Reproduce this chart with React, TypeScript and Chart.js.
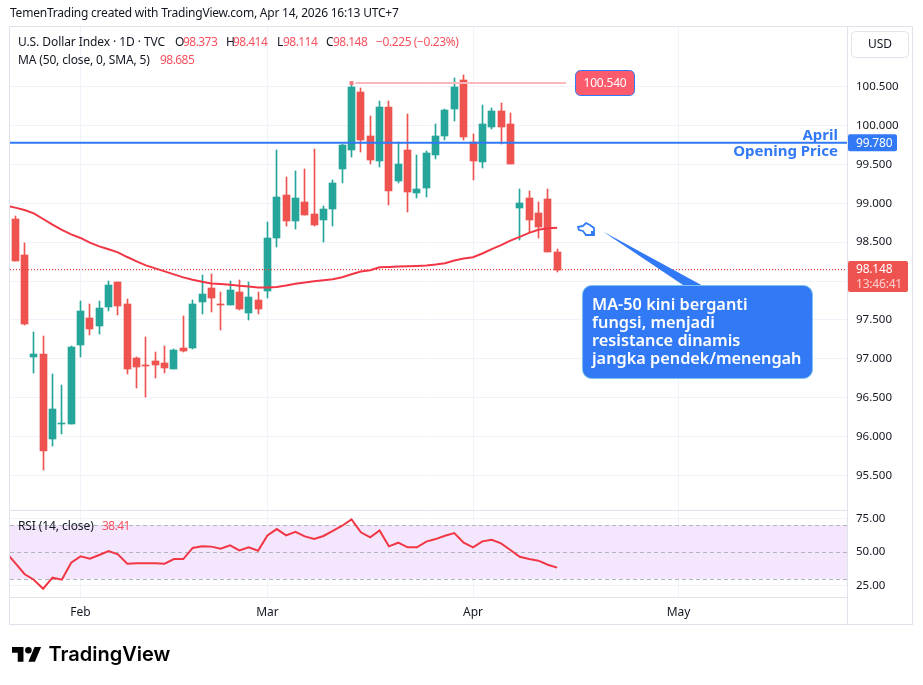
import { useEffect, useRef } from "react";
import { Chart, registerables, type Plugin } from "chart.js";

Chart.register(...registerables);

// one row per daily session, first one is Jan 22
const opens = [98.798, 98.335, 97.021, 97.06, 95.966, 96.159, 96.159, 97.176, 97.524, 97.421, 97.665, 97.987, 97.704, 97.009, 96.918, 96.97, 96.944, 96.867, 97.137, 97.137, 97.73, 97.91, 97.704, 97.691, 97.858, 97.588, 97.755, 97.871, 98.551, 99.105, 98.77, 99.015, 98.861, 98.783, 98.925, 99.44, 99.685, 100.431, 99.865, 99.543, 100.238, 99.285, 99.685, 99.131, 99.195, 99.62, 99.865, 100.212, 100.586, 99.788, 99.53, 99.981, 100.187, 100.019, 98.938, 99.067, 98.873, 99.054, 98.373];
const highs = [98.837, 98.489, 97.343, 97.292, 96.803, 96.661, 97.163, 97.742, 97.704, 97.742, 98.0, 97.987, 97.768, 97.021, 97.279, 97.086, 97.163, 97.124, 97.549, 97.755, 98.077, 98.09, 97.858, 98.0, 98.013, 97.987, 97.858, 98.76, 99.685, 99.337, 99.414, 99.44, 99.697, 98.964, 99.298, 99.762, 100.547, 100.483, 100.122, 100.315, 100.315, 99.788, 100.148, 99.62, 99.672, 100.019, 100.212, 100.612, 100.65, 99.891, 100.264, 100.225, 100.29, 100.161, 99.182, 99.157, 99.015, 99.182, 98.414];
const lows = [98.258, 97.433, 96.815, 95.567, 95.876, 96.03, 96.159, 97.021, 97.305, 97.318, 97.614, 97.562, 96.803, 96.622, 96.506, 96.751, 96.815, 96.867, 97.086, 97.124, 97.575, 97.601, 97.369, 97.691, 97.627, 97.498, 97.575, 97.781, 98.436, 98.706, 98.667, 98.848, 98.706, 98.5, 98.706, 99.26, 99.594, 99.659, 99.504, 99.466, 98.976, 99.26, 98.886, 99.067, 99.079, 99.569, 99.813, 100.058, 99.813, 99.298, 99.453, 99.955, 99.762, 99.504, 98.526, 98.629, 98.551, 98.371, 98.114];
const closes = [98.258, 97.446, 97.06, 95.811, 96.352, 96.172, 97.15, 97.614, 97.382, 97.652, 97.948, 97.678, 96.867, 96.893, 96.906, 96.918, 96.88, 97.112, 97.099, 97.704, 97.833, 97.781, 97.691, 97.884, 97.639, 97.794, 97.639, 98.551, 99.079, 98.77, 99.067, 98.848, 98.719, 98.925, 99.26, 99.749, 100.496, 99.813, 99.556, 100.238, 99.157, 99.504, 99.144, 99.182, 99.646, 99.865, 100.2, 100.496, 99.852, 99.543, 100.019, 100.187, 99.981, 99.504, 99.002, 98.783, 98.693, 98.371, 98.148];

// these two start one session earlier, off the left edge of the pane
const maValues = [98.97, 98.944, 98.914, 98.871, 98.798, 98.725, 98.657, 98.601, 98.554, 98.494, 98.446, 98.408, 98.369, 98.309, 98.253, 98.202, 98.163, 98.124, 98.086, 98.047, 98.017, 97.991, 97.97, 97.961, 97.953, 97.94, 97.931, 97.918, 97.916, 97.925, 97.942, 97.964, 97.981, 97.998, 98.011, 98.024, 98.049, 98.088, 98.122, 98.139, 98.178, 98.182, 98.187, 98.191, 98.195, 98.2, 98.212, 98.23, 98.264, 98.29, 98.307, 98.354, 98.41, 98.461, 98.521, 98.569, 98.62, 98.659, 98.68, 98.685];
const rsiValues = [50, 41.9, 33.7, 29.5, 22.8, 31, 29.5, 42.1, 46.8, 45, 47.8, 50.7, 48.3, 41.4, 41.6, 41.6, 41.6, 41.4, 44.8, 44.8, 53, 54.2, 54, 52.5, 55, 51.2, 53.5, 51, 62.3, 67, 62.3, 65, 61.6, 59.6, 61.9, 65.6, 69.5, 74.2, 64.6, 60.9, 66, 54.2, 56.9, 53.5, 53.5, 57.7, 59.6, 62.1, 64, 56.9, 53.5, 57.9, 59.1, 56.4, 51.5, 46.5, 44.8, 43.6, 40.6, 38.41];

const priceTicks = [95.5, 96, 96.5, 97, 97.5, 98, 98.5, 99, 99.5, 100, 100.5];
const rsiTicks = [25, 50, 75];
const rsiBands = [30, 50, 70];
const monthTicks = [7, 27, 49, 71];
const monthLabels = ["Feb", "Mar", "Apr", "May"];

const aprilOpen = 99.78;
const swingHigh = 100.546;
const swingHighFrom = 36;
const swingHighTo = 58.95;
const lastClose = 98.148;

const GREEN = "#26a69a";
const RED = "#ef5350";
const BLUE = "#3179f5";
const LINE_RED = "#f23645";
const GRID = "#f0f3fa";
const FRAME = "#e0e3eb";
const INK = "#131722";
const FONT = '"Noto Sans", sans-serif';

const X_MIN = -0.546;
const X_MAX = 89.02;

const candleColors = opens.map((o, i) => (closes[i] >= o ? GREEN : RED));

function text(
  ctx: CanvasRenderingContext2D,
  s: string,
  x: number,
  y: number,
  font: string,
  color: string,
  align: CanvasTextAlign = "left",
  spacing = "0px",
) {
  ctx.font = font;
  ctx.fillStyle = color;
  ctx.textAlign = align;
  ctx.textBaseline = "middle";
  (ctx as any).letterSpacing = spacing;
  // Noto sits a pixel high on the middle baseline
  ctx.fillText(s, x, y + 1);
  (ctx as any).letterSpacing = "0px";
}

function roundBox(
  ctx: CanvasRenderingContext2D,
  x: number,
  y: number,
  w: number,
  h: number,
  r: number,
  fill: string,
  stroke?: string,
) {
  ctx.beginPath();
  ctx.roundRect(x, y, w, h, r);
  ctx.fillStyle = fill;
  ctx.fill();
  if (stroke) {
    ctx.strokeStyle = stroke;
    ctx.lineWidth = 1;
    ctx.stroke();
  }
}

// candles look blurry on fractional pixels, so snap them before they draw
const snapBars: Plugin<"bar"> = {
  id: "snapBars",
  beforeDatasetsDraw(chart) {
    chart.getSortedVisibleDatasetMetas().forEach((meta) => {
      if (meta.type !== "bar") return;
      meta.data.forEach((el: any) => {
        const top = Math.round(Math.min(el.y, el.base));
        const bottom = Math.max(Math.round(Math.max(el.y, el.base)), top + 1);
        el.x = Math.floor(el.x) + 0.5;
        el.y = top;
        el.base = bottom;
      });
    });
  },
};

const rsiBand: Plugin<"bar"> = {
  id: "rsiBand",
  beforeDatasetsDraw(chart) {
    const { ctx, chartArea, scales } = chart;
    const top = scales.rsi.getPixelForValue(rsiBands[2]);
    const bottom = scales.rsi.getPixelForValue(rsiBands[0]);
    ctx.save();
    ctx.fillStyle = "#f4e7fd";
    ctx.fillRect(chartArea.left, top, chartArea.width, bottom - top);
    ctx.strokeStyle = "#b2b5be";
    ctx.setLineDash([4, 3]);
    ctx.lineWidth = 1;
    rsiBands.forEach((v) => {
      const y = Math.round(scales.rsi.getPixelForValue(v)) + 0.5;
      ctx.beginPath();
      ctx.moveTo(chartArea.left, y);
      ctx.lineTo(chartArea.right, y);
      ctx.stroke();
    });
    ctx.restore();
  },
};

const chrome: Plugin<"bar"> = {
  id: "chrome",
  afterDraw(chart) {
    const { ctx, chartArea, scales } = chart;
    const y = scales.y;
    ctx.save();

    // frame and pane separators
    ctx.strokeStyle = FRAME;
    ctx.lineWidth = 1;
    ctx.strokeRect(9.5, 26.5, 903, 598);
    ctx.beginPath();
    ctx.moveTo(chartArea.right + 0.5, 27);
    ctx.lineTo(chartArea.right + 0.5, 625);
    ctx.moveTo(10, 510.5);
    ctx.lineTo(chartArea.right, 510.5);
    ctx.moveTo(10, 597.5);
    ctx.lineTo(chartArea.right, 597.5);
    ctx.stroke();

    // header and legends
    text(ctx, "TemenTrading created with TradingView.com, Apr 14, 2026 16:13 UTC+7", 10, 13, `12px ${FONT}`, INK, "left", "-0.22px");
    text(ctx, "U.S. Dollar Index · 1D · TVC", 18, 42, `12px ${FONT}`, INK, "left", "-0.08px");
    const redLegend = "#f7525f";
    [
      ["O", 175, "98.373", 183],
      ["H", 226, "98.414", 233],
      ["L", 277, "98.114", 283],
      ["C", 326, "98.148", 333],
    ].forEach(([k, kx, v, vx]) => {
      text(ctx, k as string, kx as number, 42, `12px ${FONT}`, INK);
      text(ctx, v as string, vx as number, 42, `12px ${FONT}`, redLegend, "left", "-0.55px");
    });
    text(ctx, "−0.225 (−0.23%)", 376, 42, `12px ${FONT}`, redLegend, "left", "-0.4px");
    text(ctx, "MA (50, close, 0, SMA, 5)", 18, 60, `12px ${FONT}`, INK, "left", "-0.15px");
    text(ctx, "98.685", 160, 60, `12px ${FONT}`, redLegend, "left", "-0.55px");
    text(ctx, "RSI (14, close)", 18, 526, `12px ${FONT}`, INK, "left", "-0.1px");
    text(ctx, "38.41", 102, 526, `12px ${FONT}`, redLegend, "left", "-0.55px");

    // currency button
    roundBox(ctx, 851.5, 31.5, 57, 26, 4, "#ffffff", FRAME);
    text(ctx, "USD", 880, 44, `12px ${FONT}`, INK, "center");

    // April opening price
    text(ctx, "April", 838, 135, `bold 15px ${FONT}`, BLUE, "right");
    text(ctx, "Opening Price", 838, 151, `bold 15px ${FONT}`, BLUE, "right");
    const aprilY = y.getPixelForValue(aprilOpen);
    roundBox(ctx, 848, aprilY - 8.5, 49, 17, 2, BLUE);
    text(ctx, "99.780", 856, aprilY, `12px ${FONT}`, "#ffffff", "left", "-0.2px");

    // last price tag
    roundBox(ctx, 848, 261, 60, 31, 2, RED);
    text(ctx, "98.148", 856, 269, `12px ${FONT}`, "#ffffff", "left", "-0.2px");
    text(ctx, "13:46:41", 856, 284, `12px ${FONT}`, "#fbd0cf", "left", "-0.2px");

    // swing high marker and label
    const highX = scales.x.getPixelForValue(swingHighFrom);
    const highY = y.getPixelForValue(swingHigh);
    ctx.fillStyle = "#f77c80";
    ctx.fillRect(highX - 2, highY - 2, 4, 4);
    roundBox(ctx, 575.5, 70.5, 59, 25, 5, "#fb5b6c", BLUE);
    text(ctx, "100.540", 605, 83, `12px ${FONT}`, "#ffffff", "center", "-0.2px");

    // callout
    ctx.beginPath();
    ctx.moveTo(603, 231.5);
    ctx.lineTo(705, 287);
    ctx.lineTo(686, 287);
    ctx.closePath();
    ctx.fillStyle = BLUE;
    ctx.fill();
    roundBox(ctx, 582.5, 285.5, 230, 93, 9, BLUE, "#7cc4ec");
    const calloutFont = `600 16.3px ${FONT}`;
    text(ctx, "MA-50 kini berganti", 592, 304, calloutFont, "#ffffff");
    text(ctx, "fungsi, menjadi", 592, 322, calloutFont, "#ffffff");
    text(ctx, "resistance dinamis", 592, 340, calloutFont, "#ffffff");
    text(ctx, "jangka pendek/menengah", 592, 358, calloutFont, "#ffffff");

    // pointing hand
    ctx.beginPath();
    ctx.moveTo(578, 227);
    ctx.lineTo(583, 226);
    ctx.lineTo(586, 223);
    ctx.lineTo(590, 225);
    ctx.lineTo(594, 228);
    ctx.lineTo(594, 235);
    ctx.lineTo(586, 235);
    ctx.lineTo(583, 231);
    ctx.lineTo(579, 230);
    ctx.closePath();
    ctx.fillStyle = "#ffffff";
    ctx.fill();
    ctx.strokeStyle = BLUE;
    ctx.lineWidth = 1.8;
    ctx.stroke();
    ctx.fillStyle = BLUE;
    ctx.fillRect(591, 231, 3, 4);

    // logo
    ctx.save();
    ctx.translate(12, 643.7);
    ctx.scale(0.82, 0.82);
    ctx.fillStyle = "#000000";
    ctx.fill(new Path2D("M14 22H7V11H0V4h14v18zM28 22h-8l7.5-18h8L28 22z"));
    ctx.beginPath();
    ctx.arc(20, 8, 4, 0, Math.PI * 2);
    ctx.fill();
    ctx.restore();
    text(ctx, "TradingView", 48.5, 654, `600 20px Inter, ${FONT}`, "#000000");

    ctx.restore();
  },
};

export default function App() {
  const canvasRef = useRef<HTMLCanvasElement>(null);

  useEffect(() => {
    if (!canvasRef.current) return;
    const chart = new Chart(canvasRef.current, {
      type: "bar",
      data: {
        datasets: [
          {
            type: "line",
            data: maValues.map((v, i) => ({ x: i - 1, y: v })),
            borderColor: LINE_RED,
            borderWidth: 2,
            pointRadius: 0,
            order: 1,
          },
          {
            type: "line",
            data: rsiValues.map((v, i) => ({ x: i - 1, y: v })),
            yAxisID: "rsi",
            borderColor: LINE_RED,
            borderWidth: 2,
            pointRadius: 0,
            order: 1,
          },
          {
            type: "line",
            data: [
              { x: X_MIN, y: lastClose },
              { x: X_MAX, y: lastClose },
            ],
            borderColor: "#e8403d",
            borderWidth: 1.2,
            borderDash: [1, 2],
            pointRadius: 0,
            order: 1,
          },
          {
            type: "line",
            data: [
              { x: X_MIN, y: aprilOpen },
              { x: X_MAX, y: aprilOpen },
            ],
            borderColor: BLUE,
            borderWidth: 2,
            pointRadius: 0,
            order: 2,
          },
          {
            type: "line",
            data: [
              { x: swingHighFrom + 0.4, y: swingHigh },
              { x: swingHighTo, y: swingHigh },
            ],
            borderColor: "#fbb9bd",
            borderWidth: 2,
            pointRadius: 0,
            order: 3,
          },
          {
            data: opens.map((o, i) => ({ x: i, y: [o, closes[i]] })),
            backgroundColor: candleColors,
            barThickness: 7,
            grouped: false,
            order: 4,
          },
          {
            data: lows.map((l, i) => ({ x: i, y: [l, highs[i]] })),
            backgroundColor: candleColors,
            barThickness: 1,
            grouped: false,
            order: 5,
          },
        ] as any,
      },
      options: {
        responsive: false,
        animation: false,
        devicePixelRatio: 1,
        layout: { padding: { left: 10, top: 27 } },
        plugins: { legend: { display: false }, tooltip: { enabled: false } },
        scales: {
          x: {
            type: "linear",
            offset: false,
            min: X_MIN,
            max: X_MAX,
            afterBuildTicks: (s) => {
              s.ticks = monthTicks.map((value) => ({ value }));
            },
            afterFit: (s) => {
              s.height = 88;
            },
            grid: { color: GRID, drawTicks: false, offset: false },
            border: { display: false },
            ticks: {
              autoSkip: false,
              maxRotation: 0,
              padding: 8,
              color: INK,
              font: { family: FONT, size: 12 },
              callback: (v) => monthLabels[monthTicks.indexOf(Number(v))] ?? "",
            },
          },
          y: {
            position: "right",
            stack: "panes",
            stackWeight: 484,
            weight: 0,
            min: 95.043,
            max: 101.267,
            afterBuildTicks: (s) => {
              s.ticks = priceTicks.map((value) => ({ value }));
            },
            afterFit: (s) => {
              s.width = 76;
            },
            grid: { color: GRID, drawTicks: false },
            border: { display: false },
            ticks: {
              padding: 9,
              crossAlign: "near",
              color: INK,
              font: { family: FONT, size: 11.5 },
              callback: (v) => Number(v).toFixed(3),
            },
          },
          rsi: {
            position: "right",
            stack: "panes",
            stackWeight: 86,
            weight: 1,
            min: 16.67,
            max: 80.4,
            afterBuildTicks: (s) => {
              s.ticks = rsiTicks.map((value) => ({ value }));
            },
            afterFit: (s) => {
              s.width = 76;
            },
            grid: { color: GRID, drawTicks: false },
            border: { display: false },
            ticks: {
              padding: 9,
              crossAlign: "near",
              color: INK,
              font: { family: FONT, size: 11.5 },
              callback: (v) => Number(v).toFixed(2),
            },
          },
        },
      },
      plugins: [snapBars, rsiBand, chrome],
    } as any);
    return () => chart.destroy();
  }, []);

  return (
    <div style={{ position: "fixed", left: 0, top: 0, width: 923, height: 685, background: "#fff" }}>
      <canvas ref={canvasRef} width={923} height={685} style={{ display: "block" }} />
    </div>
  );
}
